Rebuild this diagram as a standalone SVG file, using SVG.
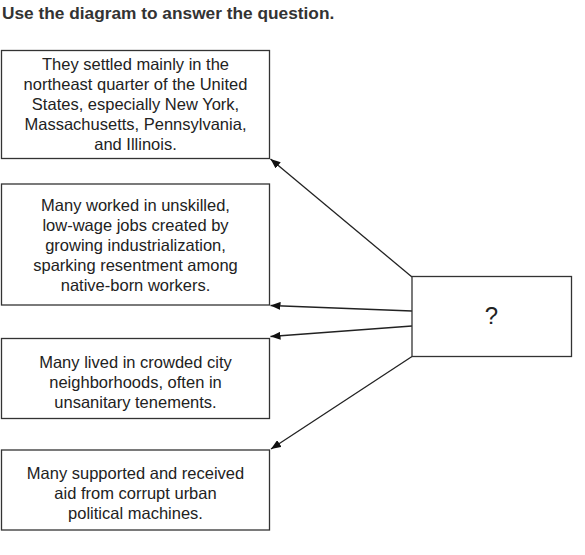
<svg xmlns="http://www.w3.org/2000/svg" width="585" height="555" viewBox="0 0 585 555">
<style>
.box{fill:#fff;stroke:#333;stroke-width:1.3}
.t{font-family:"Liberation Sans",Arial,sans-serif;font-size:16.5px;fill:#222;text-anchor:middle}
.title{font-family:"Liberation Sans",Arial,sans-serif;font-size:17.3px;font-weight:bold;fill:#333}
.c{stroke:#222;stroke-width:1.3;fill:none;marker-end:url(#ah)}
</style>
<defs>
<marker id="ah" viewBox="0 0 10 8" refX="10" refY="4" markerWidth="10" markerHeight="8" markerUnits="userSpaceOnUse" orient="auto">
<path d="M0,0 L10,4 L0,8 Z" fill="#111"/>
</marker>
</defs>
<rect width="585" height="555" fill="#fff"/>
<text class="title" x="2" y="19">Use the diagram to answer the question.</text>
<g id="connectors">
<line class="c" x1="412" y1="277" x2="270.5" y2="159"/>
<line class="c" x1="412" y1="311" x2="270.5" y2="305.5"/>
<line class="c" x1="412" y1="326" x2="270.5" y2="336.5"/>
<line class="c" x1="412" y1="356.5" x2="271" y2="449"/>
</g>
<g id="n1">
<rect class="box" x="1.5" y="50.5" width="268" height="108"/>
<text class="t" x="135.5" y="70">They settled mainly in the</text>
<text class="t" x="135.5" y="90">northeast quarter of the United</text>
<text class="t" x="135.5" y="110">States, especially New York,</text>
<text class="t" x="135.5" y="130">Massachusetts, Pennsylvania,</text>
<text class="t" x="135.5" y="150">and Illinois.</text>
</g>
<g id="n2">
<rect class="box" x="1.5" y="184" width="268" height="121"/>
<text class="t" x="135.5" y="211">Many worked in unskilled,</text>
<text class="t" x="135.5" y="231">low-wage jobs created by</text>
<text class="t" x="135.5" y="251">growing industrialization,</text>
<text class="t" x="135.5" y="271">sparking resentment among</text>
<text class="t" x="135.5" y="291">native-born workers.</text>
</g>
<g id="n3">
<rect class="box" x="1.5" y="338.5" width="268" height="80"/>
<text class="t" x="135.5" y="368">Many lived in crowded city</text>
<text class="t" x="135.5" y="388">neighborhoods, often in</text>
<text class="t" x="135.5" y="408">unsanitary tenements.</text>
</g>
<g id="n4">
<rect class="box" x="1.5" y="450" width="268" height="80"/>
<text class="t" x="135.5" y="479">Many supported and received</text>
<text class="t" x="135.5" y="499">aid from corrupt urban</text>
<text class="t" x="135.5" y="519">political machines.</text>
</g>
<g id="q">
<rect class="box" x="412" y="276.5" width="159.5" height="80"/>
<text class="t" x="491.5" y="324" style="font-size:24px">?</text>
</g>
</svg>
